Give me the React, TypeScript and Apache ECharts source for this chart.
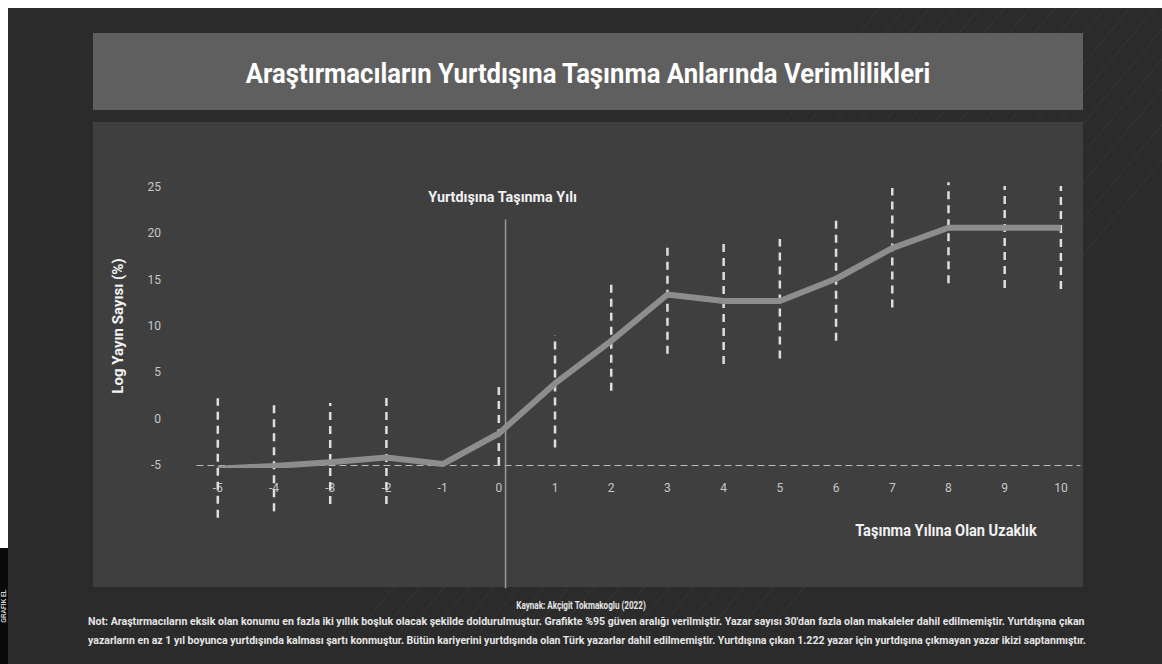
import React, { useEffect, useRef } from "react";
import * as echarts from "echarts";

const years = [-5, -4, -3, -2, -1, 0, 1, 2, 3, 4, 5, 6, 7, 8, 9, 10];
const meanValues = [-5.4, -5.1, -4.7, -4.2, -4.9, -1.6, 3.8, 8.4, 13.4, 12.7, 12.7, 15.1, 18.4, 20.6, 20.6, 20.6];
const ciLow = [-10.7, -10.0, -9.2, -9.2, null, -5.0, -3.1, 3.0, 7.0, 5.9, 6.5, 8.4, 12.0, 14.6, 14.1, 14.0];
const ciHigh = [2.2, 1.7, 1.7, 2.5, null, 3.9, 9.0, 14.9, 18.8, 18.9, 19.4, 21.4, 24.9, 25.5, 25.1, 25.1];
const yTicks = [-5, 0, 5, 10, 15, 20, 25];
const moveYear = [[0.12, 21.5, -18.3]];

const FONT = "Roboto, 'DejaVu Sans', sans-serif";

const title = "Araştırmacıların Yurtdışına Taşınma Anlarında Verimlilikleri";
const yName = "Log Yayın Sayısı (%)";
const xName = "Taşınma Yılına Olan Uzaklık";
const moveLabel = "Yurtdışına Taşınma Yılı";
const source = "Kaynak: Akçigit Tokmakoglu (2022)";
const sideLabel = "GRAFİK EL";
const note1 =
  "Not: Araştırmacıların eksik olan konumu en fazla iki yıllık boşluk olacak şekilde doldurulmuştur. Grafikte %95 güven aralığı verilmiştir. Yazar sayısı 30'dan fazla olan makaleler dahil edilmemiştir. Yurtdışına çıkan";
const note2 =
  "yazarların en az 1 yıl boyunca yurtdışında kalması şartı konmuştur. Bütün kariyerini yurtdışında olan Türk yazarlar dahil edilmemiştir. Yurtdışına çıkan 1.222 yazar için yurtdışına çıkmayan yazar ikizi saptanmıştır.";

function fitScale(text: string, font: string, width: number): number {
  const ctx = document.createElement("canvas").getContext("2d");
  if (!ctx) return 1;
  ctx.font = font;
  const w = ctx.measureText(text).width;
  return w > 0 ? width / w : 1;
}

function fittedText(text: string, x: number, y: number, size: number, width: number, align: string, color: string) {
  const font = "bold " + size + "px " + FONT;
  return {
    type: "text",
    z: 5,
    x,
    y,
    scaleX: fitScale(text, font, width),
    style: { text, fill: color, font, textAlign: align, textVerticalAlign: "middle" },
  };
}

export default function App() {
  const ref = useRef<HTMLDivElement>(null);

  useEffect(() => {
    if (!ref.current) return;
    const chart = echarts.init(ref.current, undefined, { renderer: "svg" });

    const decoLines: any[] = [];
    const starts = [880, 905, 930, 955, 980, 1005, 1030, 1055, 1080, 1105, 1130, 1155, 1180, 1205, 1230, 1260, 1290];
    starts.forEach((s) => {
      decoLines.push({
        type: "line",
        z: -9,
        shape: { x1: s, y1: 8, x2: s - 520, y2: 8 + 620 },
        style: { stroke: "rgba(255,255,255,0.06)", lineWidth: 1 },
        silent: true,
      });
    });

    const errData = years
      .map((y, i) => [y, ciLow[i], ciHigh[i]])
      .filter((d) => d[1] !== null && d[2] !== null);

    const moveFont = "bold 14px " + FONT;
    const moveScale = fitScale(moveLabel, moveFont, 149);

    chart.setOption({
      animation: false,
      backgroundColor: "#ffffff",
      graphic: [
        { type: "rect", z: -10, shape: { x: 8, y: 8, width: 1154, height: 656 }, style: { fill: "#2b2b2b" }, silent: true },
        { type: "rect", z: -10, shape: { x: 0, y: 548, width: 8, height: 116 }, style: { fill: "#0a0a0a" }, silent: true },
        {
          type: "text",
          z: -8,
          x: 4,
          y: 606,
          rotation: Math.PI / 2,
          style: { text: sideLabel, fill: "#ffffff", font: "7px " + FONT, textAlign: "center", textVerticalAlign: "middle" },
          silent: true,
        },
        ...decoLines,
        { type: "rect", z: -8, shape: { x: 93, y: 33, width: 990, height: 77 }, style: { fill: "#5f5f5f" }, silent: true },
        { type: "rect", z: -8, shape: { x: 93, y: 122, width: 990, height: 465 }, style: { fill: "#3f3f3f" }, silent: true },
        fittedText(title, 588, 74, 28, 685, "center", "#ffffff"),
        fittedText(xName, 946, 531, 16, 182, "center", "#f2f2f2"),
        fittedText(source, 581, 606, 10, 130, "center", "#e6e6e6"),
        fittedText(note1, 88, 622, 10, 997, "left", "#e6e6e6"),
        fittedText(note2, 88, 641, 10, 1000, "left", "#e6e6e6"),
      ],
      grid: { left: 197, right: 82, top: 187, bottom: 199, containLabel: false },
      xAxis: {
        type: "value",
        min: -5.37,
        max: 10.34,
        splitLine: { show: false },
        axisTick: { show: false },
        axisLine: { show: true, onZero: false, lineStyle: { color: "#bdbdbd", type: [6, 5], width: 1.2 } },
        axisLabel: {
          customValues: years,
          color: "#c8c8c8",
          fontFamily: FONT,
          fontSize: 12,
          margin: 17,
        },
      },
      yAxis: {
        type: "value",
        min: -5,
        max: 25,
        name: yName,
        nameLocation: "middle",
        nameGap: 72,
        nameRotate: 90,
        nameTextStyle: { color: "#f2f2f2", fontFamily: FONT, fontSize: 15, fontWeight: "bold" },
        splitLine: { show: false },
        axisTick: { show: false },
        axisLine: { show: false },
        axisLabel: {
          customValues: yTicks,
          color: "#c8c8c8",
          fontFamily: FONT,
          fontSize: 12,
          margin: 36,
        },
      },
      series: [
        {
          type: "custom",
          name: "ci",
          clip: false,
          z: 3,
          data: errData,
          encode: { x: 0, y: [1, 2] },
          renderItem: (params: any, api: any) => {
            const x = api.value(0);
            const lo = api.coord([x, api.value(1)]);
            const hi = api.coord([x, api.value(2)]);
            return {
              type: "line",
              shape: { x1: lo[0], y1: lo[1], x2: hi[0], y2: hi[1] },
              style: { stroke: "#dedede", lineWidth: 2.5, lineDash: [8, 6] },
            };
          },
        },
        {
          type: "custom",
          name: "move",
          clip: false,
          z: 2,
          data: moveYear,
          encode: { x: 0, y: [1, 2] },
          renderItem: (params: any, api: any) => {
            const x = api.value(0);
            const top = api.coord([x, api.value(1)]);
            const bottom = api.coord([x, api.value(2)]);
            return {
              type: "group",
              children: [
                {
                  type: "line",
                  shape: { x1: top[0], y1: top[1], x2: bottom[0], y2: bottom[1] },
                  style: { stroke: "#9a9a9a", lineWidth: 1.5 },
                },
                {
                  type: "text",
                  x: top[0] - 3,
                  y: top[1] - 22,
                  scaleX: moveScale,
                  style: {
                    text: moveLabel,
                    fill: "#f2f2f2",
                    font: moveFont,
                    textAlign: "center",
                    textVerticalAlign: "middle",
                  },
                },
              ],
            };
          },
        },
        {
          type: "line",
          name: "mean",
          z: 4,
          data: years.map((y, i) => [y, meanValues[i]]),
          showSymbol: false,
          symbol: "none",
          lineStyle: { color: "#8d8d8d", width: 6 },
        },
      ],
    });

    return () => chart.dispose();
  }, []);

  return (
    <div
      ref={ref}
      style={{ position: "absolute", left: 0, top: 0, width: 1162, height: 664 }}
    />
  );
}
